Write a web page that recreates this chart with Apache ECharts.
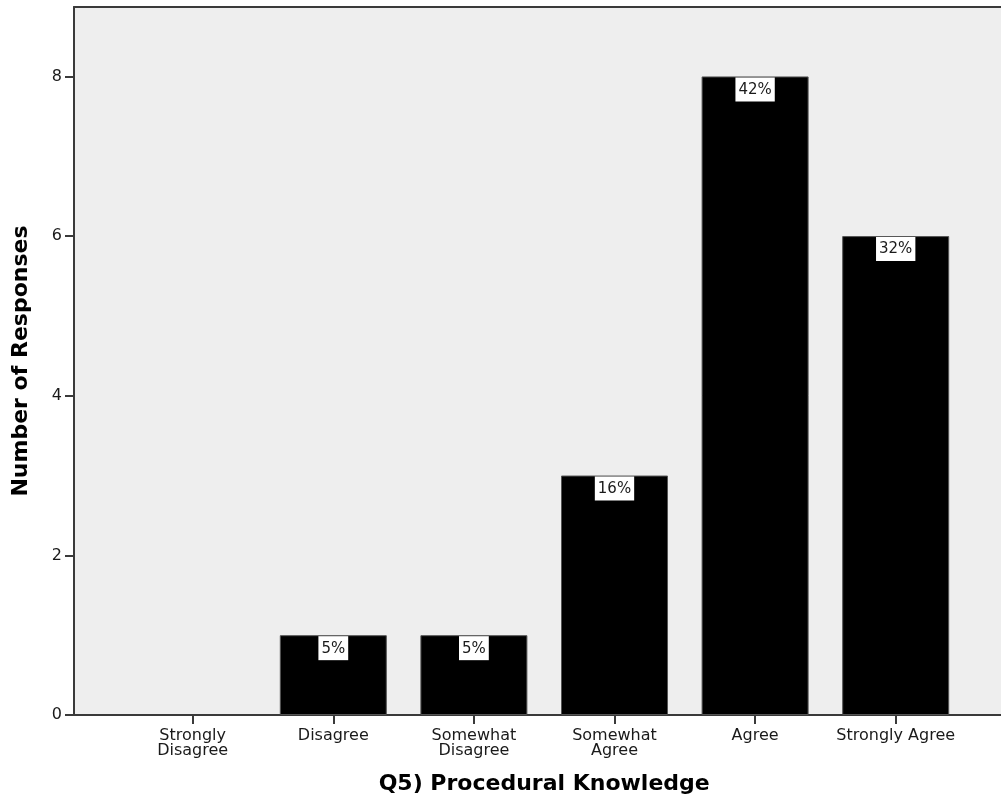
<!DOCTYPE html>
<html>
<head>
<meta charset="utf-8">
<script src="https://cdn.jsdelivr.net/npm/echarts@6/dist/echarts.min.js"></script>
<style>
  html, body { margin: 0; padding: 0; background: #fff; }
  #chart { width: 1001px; height: 805px; }
</style>
</head>
<body>
<div id="chart"></div>
<script>
// Survey responses for question Q5
const categories = ['Strongly\nDisagree', 'Disagree', 'Somewhat\nDisagree', 'Somewhat\nAgree', 'Agree', 'Strongly Agree'];
const responses = [0, 1, 1, 3, 8, 6];
const yTicks = [0, 2, 4, 6, 8];
const yMax = 8.87;

const total = responses.reduce((a, b) => a + b, 0);
const FONT = 'DejaVu Sans';
const INK = '#1a1a1a';
const LINE = '#3a3a3a';

const chart = echarts.init(document.getElementById('chart'), null, { renderer: 'canvas' });

chart.setOption({
  animation: false,
  backgroundColor: '#ffffff',
  textStyle: { fontFamily: FONT },
  grid: [
    // frame: shaded plot area with the value axis
    { left: 74, right: 0, top: 7, bottom: 90, show: true, backgroundColor: '#eeeeee', borderWidth: 0 },
    // bars: inset band so categories sit inside the frame
    { left: 122.4, right: 35, top: 7, bottom: 90 }
  ],
  xAxis: [
    { gridIndex: 0, type: 'value', min: 0, max: 1, position: 'bottom',
      axisLine: { show: true, lineStyle: { color: LINE, width: 2 } },
      axisTick: { show: false }, axisLabel: { show: false }, splitLine: { show: false } },
    { gridIndex: 0, type: 'value', min: 0, max: 1, position: 'top',
      axisLine: { show: true, lineStyle: { color: LINE, width: 2 } },
      axisTick: { show: false }, axisLabel: { show: false }, splitLine: { show: false } },
    { gridIndex: 1, type: 'category', data: categories, position: 'bottom',
      axisLine: { show: false },
      axisTick: { show: true, alignWithLabel: true, length: 9, lineStyle: { color: LINE, width: 2 } },
      axisLabel: { color: INK, fontSize: 16, lineHeight: 15, margin: 13, interval: 0, fontFamily: FONT },
      name: 'Q5) Procedural Knowledge', nameLocation: 'middle', nameGap: 58,
      nameTextStyle: { color: '#000', fontSize: 22, fontWeight: 'bold', fontFamily: FONT } }
  ],
  yAxis: [
    { gridIndex: 0, type: 'value', min: 0, max: yMax,
      axisLine: { show: true, lineStyle: { color: LINE, width: 2 } },
      axisTick: { show: true, length: 9, customValues: yTicks, lineStyle: { color: LINE, width: 2 } },
      axisLabel: { color: INK, fontSize: 16, margin: 12, customValues: yTicks, fontFamily: FONT },
      splitLine: { show: false },
      name: 'Number of Responses', nameLocation: 'middle', nameRotate: 90, nameGap: 42,
      nameTextStyle: { color: '#000', fontSize: 22, fontWeight: 'bold', fontFamily: FONT } },
    { gridIndex: 1, type: 'value', min: 0, max: yMax, show: false }
  ],
  series: [{
    type: 'bar',
    xAxisIndex: 2,
    yAxisIndex: 1,
    barWidth: 107,
    data: responses.map(v => ({
      value: v,
      label: { show: v > 0 },
      itemStyle: { borderWidth: v > 0 ? 1 : 0 }
    })),
    itemStyle: { color: '#000000', borderColor: '#555555', borderWidth: 1 },
    label: {
      show: true,
      position: 'insideTop',
      distance: 1,
      formatter: p => Math.round(p.value / total * 100) + '%',
      color: INK,
      fontSize: 15,
      fontFamily: FONT,
      backgroundColor: '#ffffff',
      padding: [5, 3, 4, 3]
    }
  }]
});
</script>
</body>
</html>
